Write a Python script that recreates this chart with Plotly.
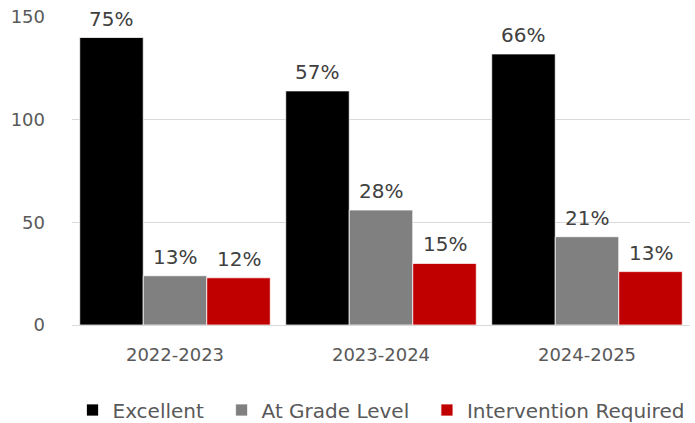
import plotly.graph_objects as go

# School years and student counts per performance band
years = ["2022-2023", "2023-2024", "2024-2025"]
excellent = [140, 114, 132]
at_grade = [24, 56, 43]
intervention = [23, 30, 26]

series = [
    ("Excellent", excellent, "#000000"),
    ("At Grade Level", at_grade, "#808080"),
    ("Intervention Required", intervention, "#C00000"),
]

totals = [sum(v) for v in zip(excellent, at_grade, intervention)]

FONT = "DejaVu Sans, Arial, sans-serif"
BARGAP = 0.075
n_series = len(series)
bar_w = (1 - BARGAP) / n_series  # width of one bar in category units
NBSP = "\u00a0"

fig = go.Figure()
annotations = []
for i, (name, vals, color) in enumerate(series):
    # trailing non-breaking spaces widen the gap between legend entries
    legend_name = name + (NBSP * 2 if i < n_series - 1 else "")
    fig.add_trace(go.Bar(
        name=legend_name,
        x=years,
        y=vals,
        marker=dict(color=color, line=dict(color="#ffffff", width=0.75)),
        hoverinfo="skip",
    ))
    # percentage-of-year labels above each bar
    offset = (i - (n_series - 1) / 2) * bar_w
    for j, (v, t) in enumerate(zip(vals, totals)):
        annotations.append(dict(
            x=j + offset,
            y=v,
            xref="x",
            yref="y",
            text=f"{round(100 * v / t)}%",
            showarrow=False,
            yanchor="bottom",
            xanchor="center",
            yshift=5,
            font=dict(size=20, color="#404040", family=FONT),
        ))

fig.update_layout(
    width=695,
    height=423,
    barmode="group",
    bargap=BARGAP,
    bargroupgap=0,
    plot_bgcolor="#ffffff",
    paper_bgcolor="#ffffff",
    margin=dict(l=72, r=5, t=17, b=98),
    font=dict(family=FONT, size=18, color="#595959"),
    annotations=annotations,
    showlegend=True,
    legend=dict(
        orientation="h",
        x=0.5,
        xanchor="center",
        yref="container",
        y=1 - 410 / 423,
        yanchor="middle",
        font=dict(size=20, color="#595959"),
        itemwidth=30,
        traceorder="normal",
    ),
    xaxis=dict(
        showgrid=False,
        showline=False,
        ticks="",
        tickfont=dict(size=18, color="#595959"),
        ticklabelstandoff=17,
        automargin=False,
    ),
    yaxis=dict(
        range=[0, 150],
        tickvals=[0, 50, 100, 150],
        showgrid=True,
        gridcolor="#d9d9d9",
        gridwidth=1,
        zeroline=True,
        zerolinecolor="#d9d9d9",
        zerolinewidth=1,
        showline=False,
        ticks="",
        tickfont=dict(size=18, color="#595959"),
        ticklabelstandoff=26,
        automargin=False,
    ),
)

fig.write_html("out.html")
